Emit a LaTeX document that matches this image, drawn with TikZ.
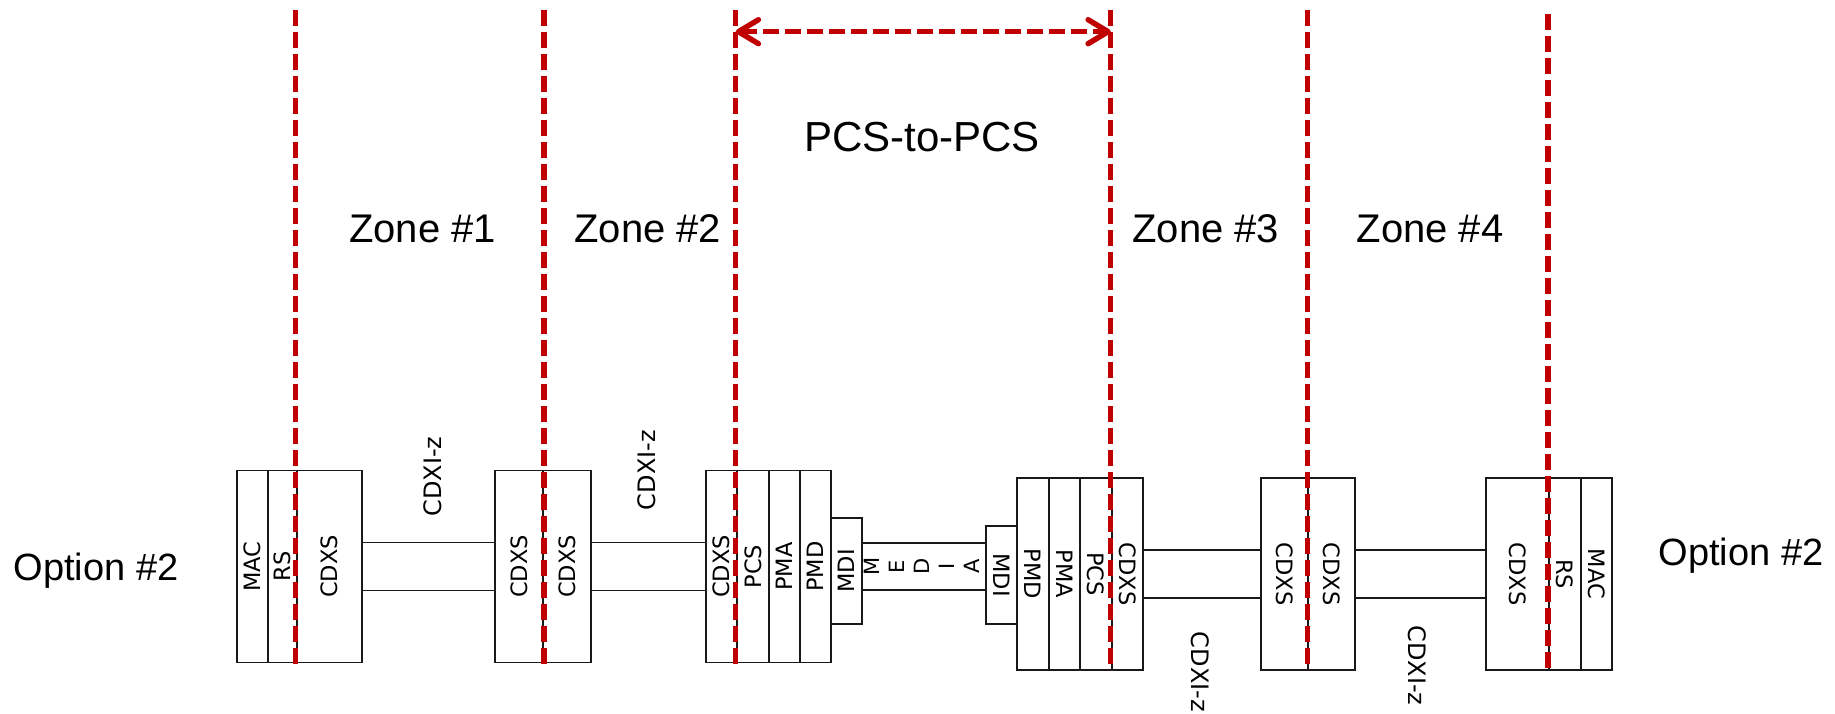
\documentclass[tikz,border=0pt]{standalone}
\usepackage{fontspec}
\usepackage{graphicx}
\setmainfont{Liberation Sans}
\newfontfamily\boxfont{DejaVu Sans}
\usetikzlibrary{arrows.meta}
\definecolor{zonered}{RGB}{192,0,0}
\newcommand{\rup}[1]{\rotatebox{90}{#1}}
\newcommand{\rdn}[1]{\rotatebox{-90}{#1}}

\begin{document}
\begin{tikzpicture}[x=1pt, y=-1pt,
	layer/.style={draw=black!90, line width=0.65mm, inner sep=0pt, minimum width=#1, minimum height=192pt, font=\boxfont\fontsize{22.5}{22.5}\selectfont},
	link/.style={draw=black!90, line width=0.65mm},
	zoneline/.style={draw=zonered, line width=1.9mm, dash pattern=on 16pt off 6pt},
	zonetext/.style={font=\fontsize{40}{40}\selectfont, anchor=base},
	cdxi/.style={font=\boxfont\fontsize{24}{24}\selectfont}]
			%%%%% START %%%%%
			\useasboundingbox (0,0) rectangle (1835,714);
			
			\coordinate (zt) at (0,10);
			\coordinate (zt6) at (0,14);
			\coordinate (zbl) at (0,665);
			\coordinate (zbr) at (0,670);
			\coordinate (arr) at (0,31.7);
			
			%%%%% LEFT SIDE %%%%%
			\node[layer=31pt] (mac1) at (252.2,566.5) {\rup{MAC}};
			\node[layer=29pt] (rs1) at (282.2,566.5) {\rup{RS}};
			\node[layer=65pt] (cdxs1) at (329.2,566.5) {\rup{CDXS}};
			
			\node[layer=48pt] (cdxs2a) at (519,566.5) {\rup{CDXS}};
			\node[layer=48pt] (cdxs2b) at (567,566.5) {\rup{CDXS}};
			
			\node[layer=30.7pt] (cdxs3) at (721.3,566.5) {\rup{CDXS}};
			\node[layer=32.3pt] (pcs3) at (752.8,566.5) {\rup{PCS}};
			\node[layer=31pt] (pma3) at (784.5,566.5) {\rup{PMA}};
			\node[layer=31pt] (pmd3) at (815.5,566.5) {\rup{PMD}};
			\node[layer=31.3pt, minimum height=106pt] (mdi3) at (846.6,571) {\rup{MDI}};
			
			\node[draw=black!90, line width=0.65mm, inner sep=0pt, minimum width=123.4pt, minimum height=47.6pt,
				font=\boxfont\fontsize{21}{25}\selectfont] (media) at (924,566.5)
				{\rup{\begin{tabular}{@{}c@{}}M\\E\\D\\I\\A\end{tabular}}};
			
			%%%%% RIGHT SIDE %%%%%
			\node[layer=31pt, minimum height=98pt] (mdi4) at (1001.2,575) {\rdn{MDI}};
			\node[layer=32pt] (pmd4) at (1032.7,574) {\rdn{PMD}};
			\node[layer=31.3pt] (pma4) at (1064.3,574) {\rdn{PMA}};
			\node[layer=31.7pt] (pcs4) at (1095.9,574) {\rdn{PCS}};
			\node[layer=31pt] (cdxs4) at (1127.2,574) {\rdn{CDXS}};
			
			\node[layer=47.6pt] (cdxs5a) at (1284.5,574) {\rdn{CDXS}};
			\node[layer=46.7pt] (cdxs5b) at (1331.7,574) {\rdn{CDXS}};
			
			\node[layer=63pt] (cdxs6) at (1517.5,574) {\rdn{CDXS}};
			\node[layer=32pt] (rs6) at (1565,574) {\rdn{RS}};
			\node[layer=31pt] (mac6) at (1596.5,574) {\rdn{MAC}};
			
			%%%%% CDXI LINKS %%%%%
			\draw[link] ([yshift=24pt]cdxs1.east) -- ([yshift=24pt]cdxs2a.west);
			\draw[link] ([yshift=-24pt]cdxs1.east) -- ([yshift=-24pt]cdxs2a.west);
			\draw[link] ([yshift=24pt]cdxs2b.east) -- ([yshift=24pt]cdxs3.west);
			\draw[link] ([yshift=-24pt]cdxs2b.east) -- ([yshift=-24pt]cdxs3.west);
			\draw[link] ([yshift=24pt]cdxs4.east) -- ([yshift=24pt]cdxs5a.west);
			\draw[link] ([yshift=-24pt]cdxs4.east) -- ([yshift=-24pt]cdxs5a.west);
			\draw[link] ([yshift=24pt]cdxs5b.east) -- ([yshift=24pt]cdxs6.west);
			\draw[link] ([yshift=-24pt]cdxs5b.east) -- ([yshift=-24pt]cdxs6.west);
			
			\node[cdxi] (cdxi1) at (432.7,476.5) {\rup{CDXI-z}};
			\node[cdxi] (cdxi2) at (646.7,470) {\rup{CDXI-z}};
			\node[cdxi] (cdxi3) at (1200.6,672) {\rdn{CDXI-z}};
			\node[cdxi] (cdxi4) at (1417,665.5) {\rdn{CDXI-z}};
			
			%%%%% ZONE BORDERS %%%%%
			\draw[zoneline] (cdxs1.west |- zt) -- (cdxs1.west |- zbl);
			\draw[zoneline] (cdxs2a.east |- zt) -- (cdxs2a.east |- zbl);
			\draw[zoneline] (pcs3.west |- zt) -- (pcs3.west |- zbl);
			\draw[zoneline] (cdxs4.west |- zt) -- (cdxs4.west |- zbr);
			\draw[zoneline] (cdxs5b.west |- zt) -- (cdxs5b.west |- zbr);
			\draw[zoneline] (rs6.west |- zt6) -- (rs6.west |- zbr);
			
			\draw[zoneline, {Straight Barb[length=20pt, width=24pt, round]}-{Straight Barb[length=20pt, width=24pt, round]}]
				(pcs3.west |- arr) -- (cdxs4.west |- arr);
			
			%%%%% LABELS %%%%%
			\node[zonetext] (zone1) at (422.6,242.8) {Zone \#1};
			\node[zonetext] (zone2) at (647.7,242.8) {Zone \#2};
			\node[zonetext] (zone3) at (1205.8,242.8) {Zone \#3};
			\node[zonetext] (zone4) at (1430,242.8) {Zone \#4};
			\node[zonetext, font=\fontsize{42}{42}\selectfont] (pcs) at (922,152) {PCS-to-PCS};
			
			\node[zonetext, anchor=base west, font=\fontsize{38}{38}\selectfont] (opt1) at (10,580.8) {Option \#2};
			\node[zonetext, anchor=base west, font=\fontsize{38}{38}\selectfont] (opt2) at (1655,565.7) {Option \#2};
			
			%%%%% END %%%%%
		\end{tikzpicture}
\end{document}
